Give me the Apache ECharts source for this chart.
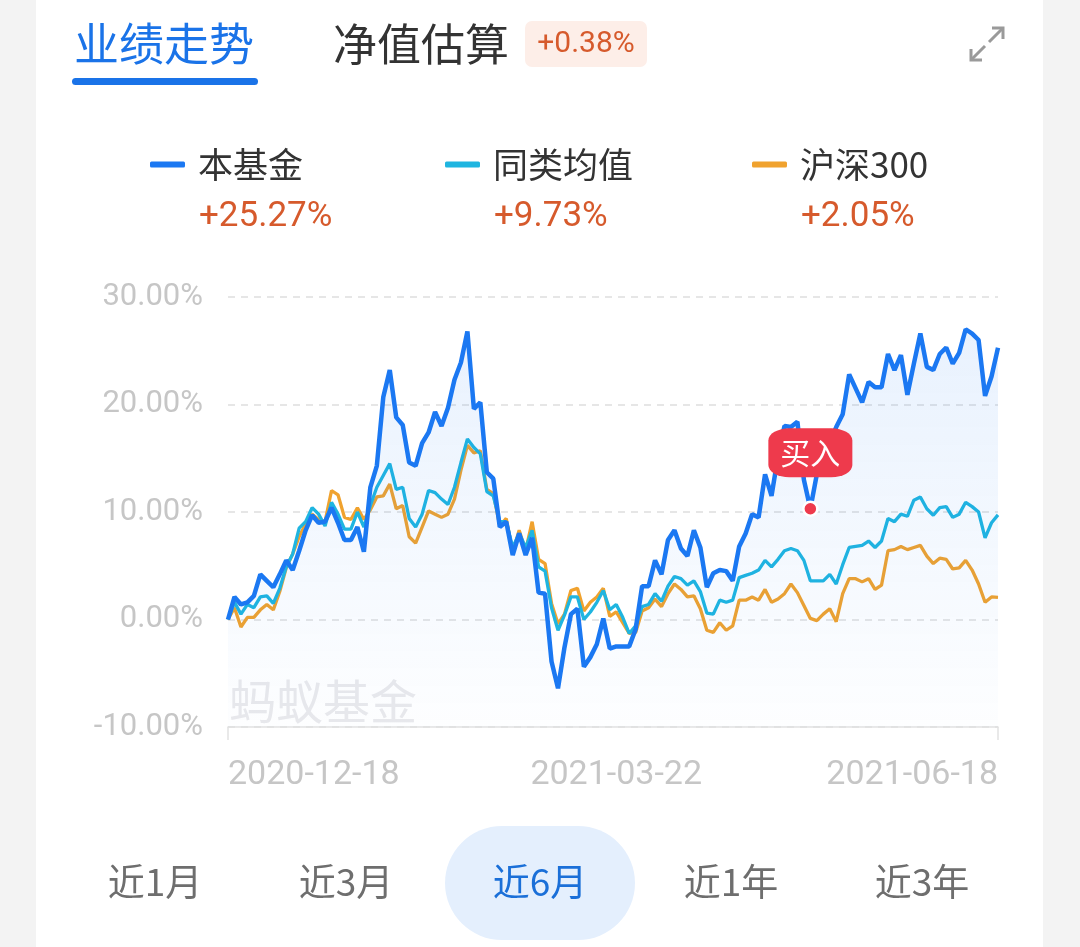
<!DOCTYPE html>
<html>
<head>
<meta charset="utf-8">
<script src="https://cdn.jsdelivr.net/npm/echarts@6/dist/echarts.min.js"></script>
<style>
html,body{margin:0;padding:0;}
body{width:1080px;height:947px;background:linear-gradient(to right,#f3f3f3 0,#f3f3f3 36px,#ffffff 36px,#ffffff 1043px,#f3f3f3 1043px);}
#c{width:1080px;height:947px;}
</style>
</head>
<body>
<div id="c"></div>
<script>
var dates = [
'2020-12-18','2020-12-21','2020-12-22','2020-12-23','2020-12-24','2020-12-25','2020-12-28','2020-12-29','2020-12-30','2020-12-31',
'2021-01-04','2021-01-05','2021-01-06','2021-01-07','2021-01-08','2021-01-11','2021-01-12','2021-01-13','2021-01-14','2021-01-15',
'2021-01-18','2021-01-19','2021-01-20','2021-01-21','2021-01-22','2021-01-25','2021-01-26','2021-01-27','2021-01-28','2021-01-29',
'2021-02-01','2021-02-02','2021-02-03','2021-02-04','2021-02-05','2021-02-08','2021-02-09','2021-02-10','2021-02-18','2021-02-19',
'2021-02-22','2021-02-23','2021-02-24','2021-02-25','2021-02-26',
'2021-03-01','2021-03-02','2021-03-03','2021-03-04','2021-03-05','2021-03-08','2021-03-09','2021-03-10','2021-03-11','2021-03-12',
'2021-03-15','2021-03-16','2021-03-17','2021-03-18','2021-03-19','2021-03-22','2021-03-23','2021-03-24','2021-03-25','2021-03-26',
'2021-03-29','2021-03-30','2021-03-31',
'2021-04-01','2021-04-02','2021-04-06','2021-04-07','2021-04-08','2021-04-09','2021-04-12','2021-04-13','2021-04-14','2021-04-15',
'2021-04-16','2021-04-19','2021-04-20','2021-04-21','2021-04-22','2021-04-23','2021-04-26','2021-04-27','2021-04-28','2021-04-29','2021-04-30',
'2021-05-06','2021-05-07','2021-05-10','2021-05-11','2021-05-12','2021-05-13','2021-05-14','2021-05-17','2021-05-18','2021-05-19',
'2021-05-20','2021-05-21','2021-05-24','2021-05-25','2021-05-26','2021-05-27','2021-05-28','2021-05-31',
'2021-06-01','2021-06-02','2021-06-03','2021-06-04','2021-06-07','2021-06-08','2021-06-09','2021-06-10','2021-06-11',
'2021-06-15','2021-06-16','2021-06-17','2021-06-18'
];

// 本基金 (%)
var fundValues = [
0,2.1,1.4,1.6,2.2,4.2,3.6,3.0,4.2,5.5,
4.6,6.4,8.3,9.7,9.0,9.1,10.4,9.0,7.4,7.4,
8.6,6.3,12.3,14.3,20.7,23.2,18.8,18.1,14.6,14.3,
16.4,17.4,19.3,18.0,19.7,22.3,23.9,26.8,19.6,20.2,
13.7,13.1,8.6,9.1,6.0,8.0,6.0,7.6,2.5,2.4,
-3.9,-6.4,-2.6,0.5,1.0,-4.4,-3.5,-2.3,0.1,-2.7,
-2.5,-2.5,-2.5,-0.9,3.1,3.1,5.5,4.2,7.4,8.3,
6.6,5.9,8.3,6.7,3.0,4.3,4.6,4.5,3.6,6.8,
8.0,9.8,9.5,13.5,11.5,15.2,18.0,17.9,18.4,13.0,
10.3,13.5,15.0,16.5,17.9,19.1,22.8,21.5,20.2,22.1,
21.6,21.6,24.7,23.2,24.6,20.9,23.8,26.6,23.5,23.2,
24.7,25.3,23.8,24.8,27.0,26.6,26.0,20.8,22.6,25.27
];

// 同类均值 (%)
var peerValues = [
0,1.6,0.5,1.4,1.1,2.1,2.2,1.5,2.9,4.9,
6.1,8.5,9.1,10.4,9.8,8.7,10.9,9.8,8.4,8.4,
10.0,8.6,10.6,12.3,13.4,14.5,12.1,12.3,9.4,8.6,
9.8,12.0,11.8,11.2,10.7,12.3,14.6,16.8,16.0,15.4,
11.9,11.5,9.1,9.1,6.7,8.0,6.7,8.3,4.9,4.5,
1.1,-1.0,0.4,2.1,2.1,0.0,0.7,1.6,2.7,0.9,
1.4,0.2,-1.3,-0.6,1.2,1.4,2.4,1.7,3.1,4.0,
3.8,3.2,3.6,2.6,0.6,0.5,1.8,1.6,1.8,3.9,
4.1,4.3,4.6,5.5,4.9,5.6,6.4,6.6,6.4,5.5,
3.6,3.6,3.6,4.2,3.3,5.1,6.7,6.8,6.9,7.3,
6.7,7.3,9.4,9.1,9.8,9.6,11.1,11.4,10.3,9.7,
10.4,10.5,9.5,9.8,10.9,10.5,10.0,7.6,9.0,9.73
];

// 沪深300 (%)
var indexValues = [
0,1.1,-0.7,0.2,0.2,0.9,1.4,0.9,2.6,4.8,
6.1,7.7,8.9,9.8,9.3,9.1,12.0,11.6,9.5,9.3,
10.4,9.3,10.2,11.4,11.5,12.6,10.3,10.6,7.7,7.1,
8.6,10.1,9.8,9.5,9.8,11.2,13.9,16.2,15.5,15.7,
12.1,11.7,8.7,9.4,6.3,8.3,6.4,9.1,5.6,5.2,
1.5,-0.4,0.5,2.7,2.9,0.8,1.6,2.1,2.9,0.3,
0.7,-0.3,-1.3,-1.2,0.8,1.1,1.9,1.2,2.4,3.3,
2.8,2.1,2.2,1.0,-1.0,-1.2,-0.3,-1.0,-0.6,1.8,
1.8,2.1,1.8,2.8,1.6,1.9,2.4,3.3,2.5,1.3,
0.1,-0.1,0.5,1.0,-0.2,2.4,3.8,3.8,3.5,3.8,
2.8,3.2,6.4,6.5,6.8,6.5,6.7,6.9,5.9,5.2,
5.7,5.6,4.7,4.8,5.5,4.6,3.3,1.6,2.1,2.05
];

var seriesNames = ['本基金', '同类均值', '沪深300'];
var seriesTotals = ['+25.27%', '+9.73%', '+2.05%'];
var estimateText = '+0.38%';
var buyIndex = 90;
var buyLabel = '买入';
var periodTabs = ['近1月', '近3月', '近6月', '近1年', '近3年'];
var activeTab = 2;
var yTicks = { min: -10, max: 30, interval: 10 };

var FONT = 'Roboto, "Noto Sans CJK SC", sans-serif';
var CJK = '"Noto Sans CJK SC", Roboto, sans-serif';
var C_BLUE = '#1b78f2', C_CYAN = '#1fb5e0', C_ORANGE = '#f0a22e';
var C_RED_TXT = '#d65a2c';
var lastIdx = dates.length - 1;
var midIdx = 60;

var chart = echarts.init(document.getElementById('c'), null, {renderer: 'canvas'});

var legendLefts = [150, 445, 752];
var legends = seriesNames.map(function (n, i) {
  return {
    data: [n], left: legendLefts[i], top: 147, padding: 0, icon: 'roundRect',
    itemWidth: 35, itemHeight: 6, selectedMode: false,
    textStyle: { fontSize: 35, color: '#333', fontFamily: CJK, padding: [0, 0, 0, 8] }
  };
});

var graphics = [
  { type: 'text', x: 74, y: 44, style: { text: '业绩走势', fill: '#1a73e8', font: '45px ' + CJK, verticalAlign: 'middle' } },
  { type: 'rect', shape: { x: 72, y: 78, width: 186, height: 7, r: 3.5 }, style: { fill: '#1a73e8' } },
  { type: 'text', x: 333, y: 44, style: { text: '净值估算', fill: '#333', font: '44px ' + CJK, verticalAlign: 'middle' } },
  { type: 'rect', shape: { x: 525, y: 21, width: 122, height: 46, r: 7 }, style: { fill: '#fdeee8' } },
  { type: 'text', x: 586, y: 44, style: { text: estimateText, fill: C_RED_TXT, font: '30px ' + FONT, align: 'center', verticalAlign: 'middle' } },
  { type: 'polyline', shape: { points: [[989, 42], [1003, 28]] }, style: { stroke: '#9a9a9a', lineWidth: 3, fill: null } },
  { type: 'polyline', shape: { points: [[992, 28], [1003, 28], [1003, 39]] }, style: { stroke: '#9a9a9a', lineWidth: 3, fill: null } },
  { type: 'polyline', shape: { points: [[985, 46], [971, 60]] }, style: { stroke: '#9a9a9a', lineWidth: 3, fill: null } },
  { type: 'polyline', shape: { points: [[971, 49], [971, 60], [982, 60]] }, style: { stroke: '#9a9a9a', lineWidth: 3, fill: null } },
  { type: 'text', x: 229, y: 701, z: 0, style: { text: '蚂蚁基金', fill: '#e9e9ec', font: '47px ' + CJK, verticalAlign: 'middle' } },
  { type: 'rect', shape: { x: 445, y: 826, width: 190, height: 114, r: 57 }, style: { fill: '#e4effd' } }
];
seriesTotals.forEach(function (t, i) {
  graphics.push({ type: 'text', x: legendLefts[i] + 49, y: 217, style: { text: t, fill: C_RED_TXT, font: '35px ' + FONT, verticalAlign: 'middle' } });
});
var tabCenters = [155, 346, 540, 731, 922];
periodTabs.forEach(function (t, i) {
  graphics.push({ type: 'text', x: tabCenters[i], y: 882, style: { text: t, fill: i === activeTab ? '#1a6fd8' : '#6e6e6e', font: '37px ' + CJK, align: 'center', verticalAlign: 'middle' } });
});

var endTick = function (idx) { return idx === 0 || idx === lastIdx; };
var labelTick = function (idx) { return idx === 0 || idx === midIdx || idx === lastIdx; };

var option = {
  backgroundColor: 'transparent',
  animation: false,
  legend: legends,
  graphic: graphics,
  grid: { left: 228, right: 82, top: 297, bottom: 220 },
  xAxis: {
    type: 'category', boundaryGap: false, data: dates,
    axisLine: { onZero: false, lineStyle: { color: '#e2e2e2', width: 1.5 } },
    axisTick: { show: true, interval: endTick, length: 13, lineStyle: { color: '#e2e2e2', width: 1.5 } },
    axisLabel: { interval: labelTick, color: '#c6c6c6', fontSize: 34, fontFamily: FONT, margin: 32,
      showMinLabel: true, showMaxLabel: true, alignMinLabel: 'left', alignMaxLabel: 'right' },
    splitLine: { show: false }
  },
  yAxis: {
    type: 'value', min: yTicks.min, max: yTicks.max, interval: yTicks.interval,
    axisLine: { show: false }, axisTick: { show: false },
    axisLabel: { color: '#c6c6c6', fontSize: 31, fontFamily: FONT, margin: 25,
      formatter: function (v) { return v.toFixed(2) + '%'; } },
    splitLine: { lineStyle: { color: '#dedede', type: [7, 6], width: 1.5 } }
  },
  series: [
    {
      name: seriesNames[0], type: 'line', data: fundValues, z: 5, symbol: 'none',
      lineStyle: { color: C_BLUE, width: 4.5 }, itemStyle: { color: C_BLUE },
      areaStyle: { origin: 'start', color: new echarts.graphic.LinearGradient(0, 0, 0, 1, [
        { offset: 0, color: 'rgba(27,120,242,0.14)' }, { offset: 1, color: 'rgba(27,120,242,0.01)' }]) },
      markPoint: {
        silent: true, z: 20,
        data: [
          { coord: [buyIndex, fundValues[buyIndex]], symbol: 'circle', symbolSize: 14,
            itemStyle: { color: '#ee3a4c', borderColor: '#fff', borderWidth: 2.5 }, label: { show: false } },
          { coord: [buyIndex, fundValues[buyIndex]], symbol: 'roundRect', symbolSize: [84, 49], symbolOffset: [0, -56],
            itemStyle: { color: '#ee3a4c' },
            label: { show: true, position: 'inside', formatter: buyLabel, color: '#fff', fontSize: 30, fontFamily: CJK } }
        ]
      }
    },
    { name: seriesNames[1], type: 'line', data: peerValues, z: 4, symbol: 'none',
      lineStyle: { color: C_CYAN, width: 3.3 }, itemStyle: { color: C_CYAN } },
    { name: seriesNames[2], type: 'line', data: indexValues, z: 3, symbol: 'none',
      lineStyle: { color: C_ORANGE, width: 3.3 }, itemStyle: { color: C_ORANGE } }
  ]
};
chart.setOption(option);
</script>
</body>
</html>
